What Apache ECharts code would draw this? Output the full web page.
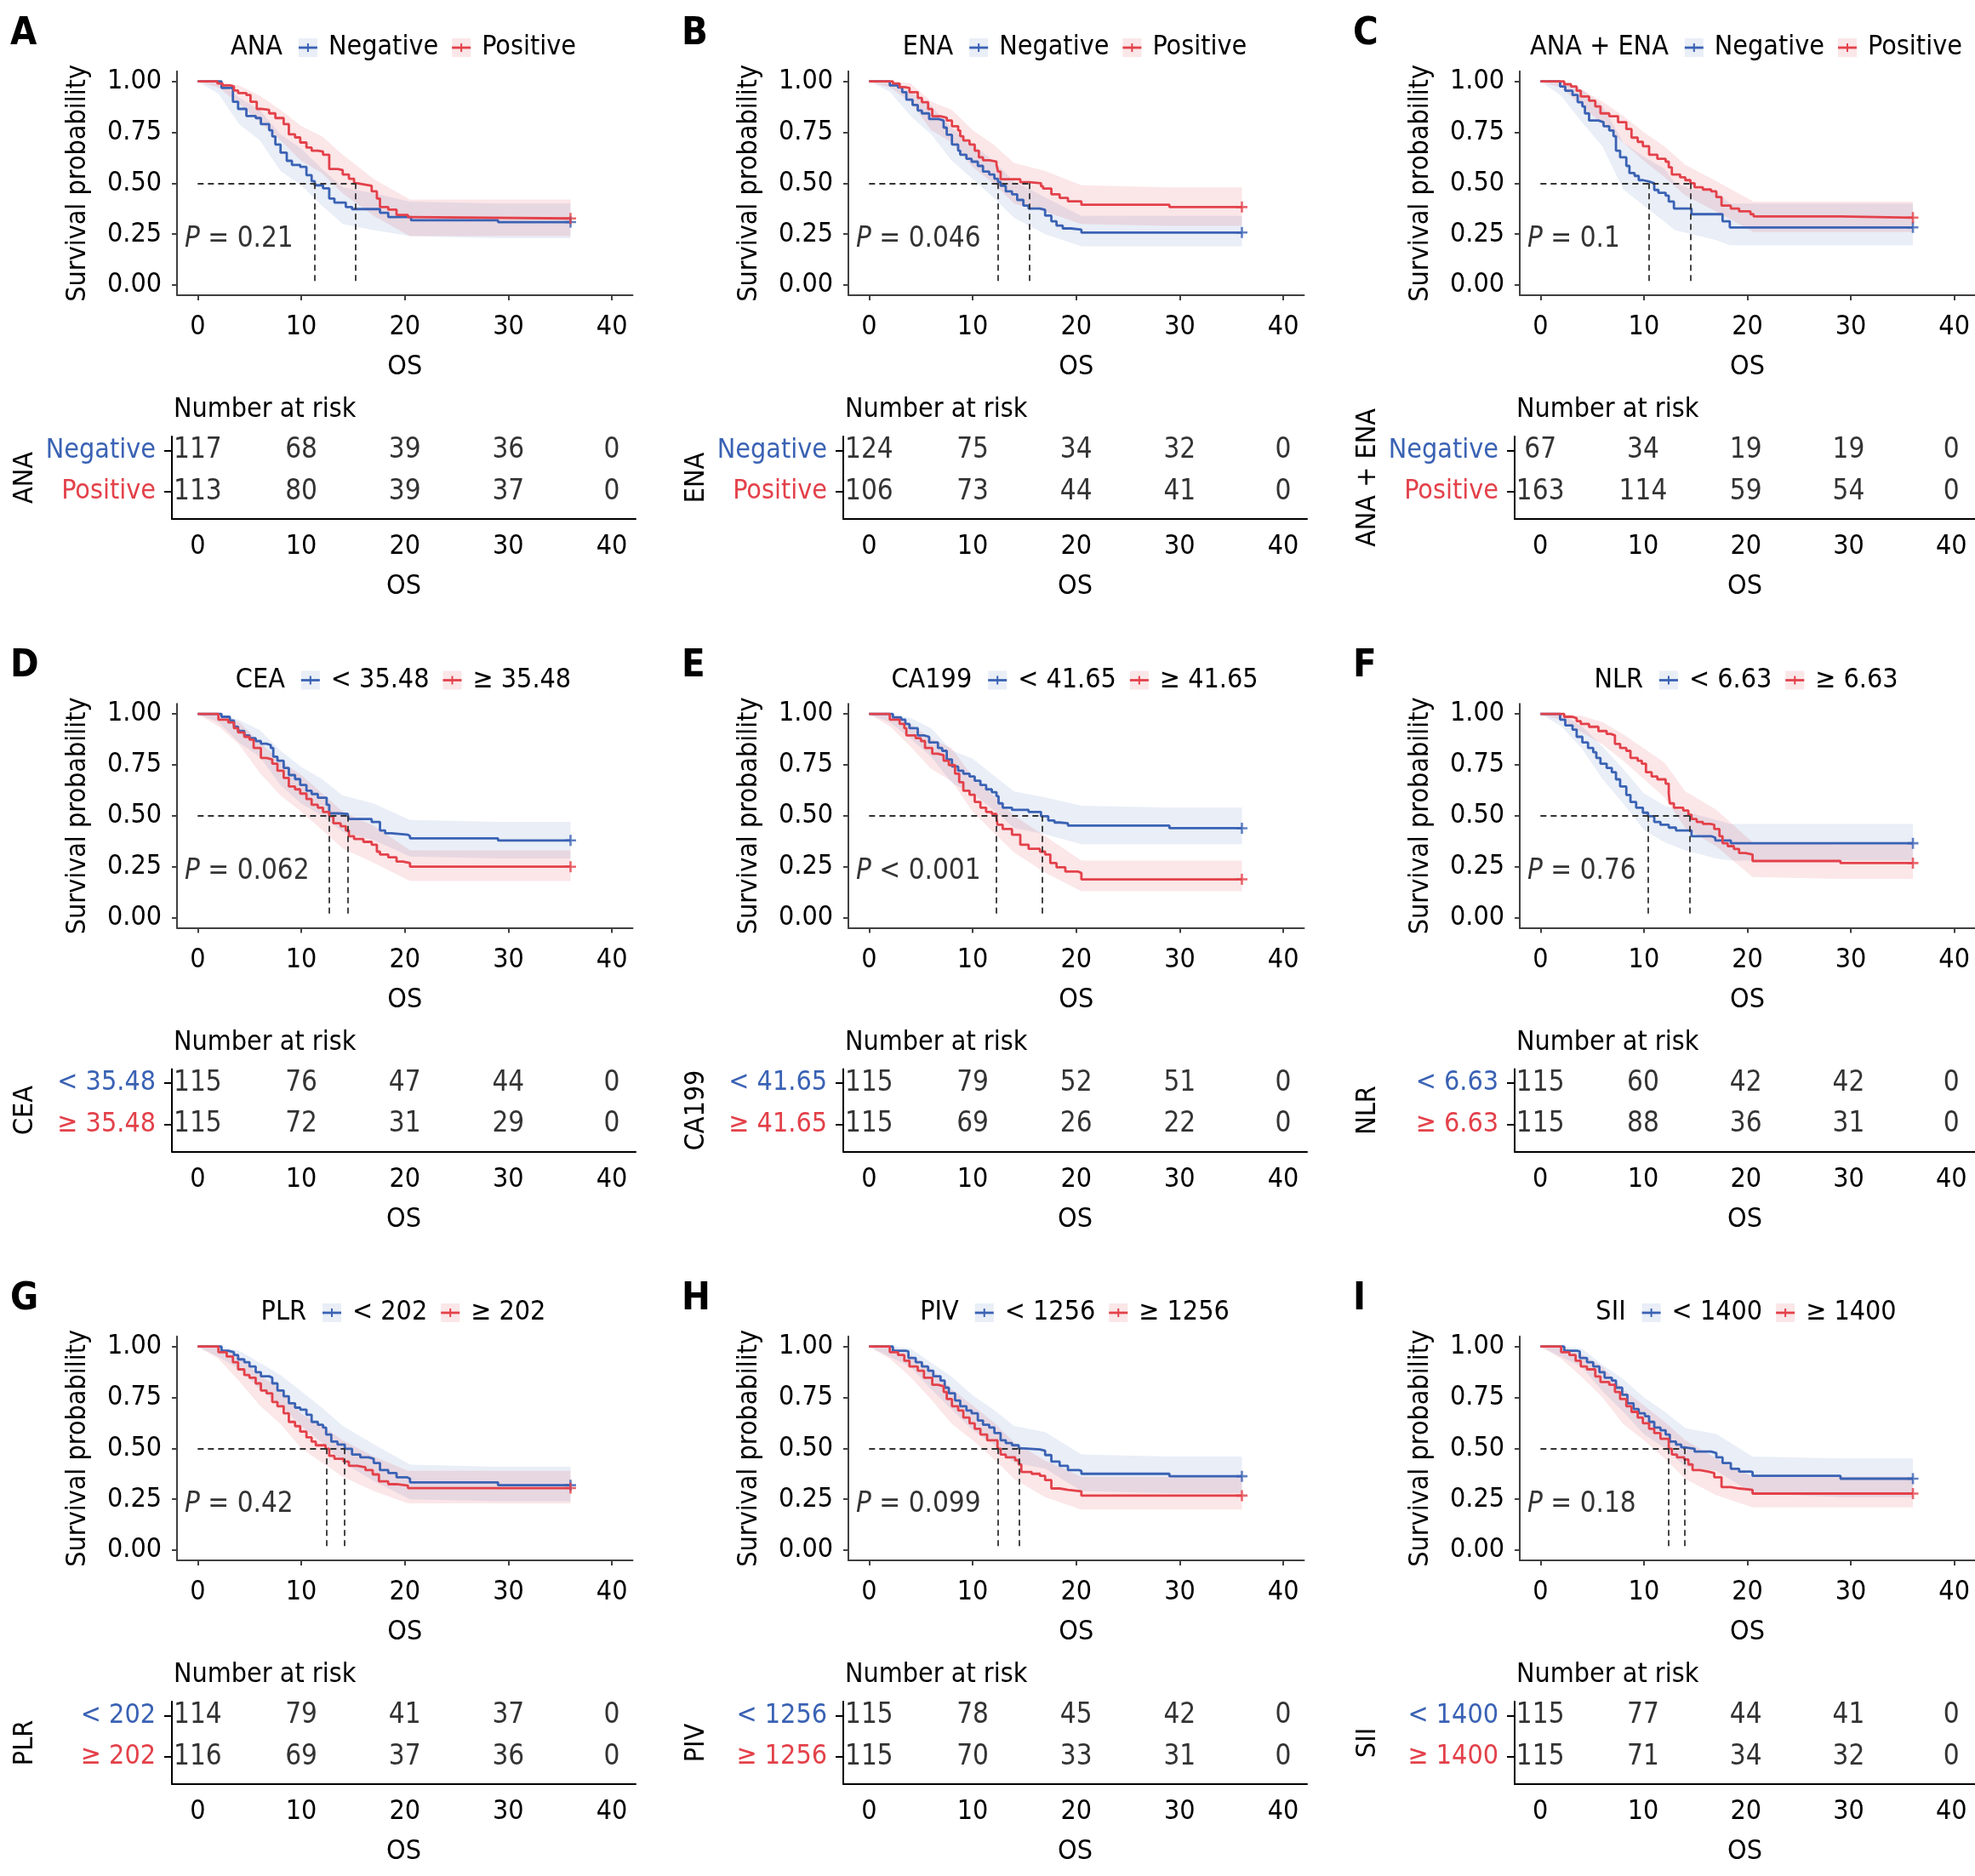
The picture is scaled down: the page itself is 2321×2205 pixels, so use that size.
<!DOCTYPE html>
<html><head><meta charset="utf-8">
<script src="https://cdn.jsdelivr.net/npm/echarts@6/dist/echarts.min.js"></script>
<style>html,body{margin:0;padding:0;background:#fff}#c{width:2321px;height:2205px}</style>
</head><body><div id="c"></div><script>
// ---------------- DATA ----------------
const titles = ['ANA','ENA','ANA + ENA','CEA','CA199','NLR','PLR','PIV','SII'];
const letters = ['A','B','C','D','E','F','G','H','I'];
const groupLabels = [
  ['Negative','Positive'],['Negative','Positive'],['Negative','Positive'],
  ['< 35.48','\u2265 35.48'],['< 41.65','\u2265 41.65'],['< 6.63','\u2265 6.63'],
  ['< 202','\u2265 202'],['< 1256','\u2265 1256'],['< 1400','\u2265 1400']];
const pTexts = ['= 0.21','= 0.046','= 0.1','= 0.062','< 0.001','= 0.76','= 0.42','= 0.099','= 0.18'];
const pPos = [-1.3, 0.225];
const xTicks = [0,10,20,30,40];
const yTicks = [0,0.25,0.5,0.75,1];
const riskTimes = [0,10,20,30,40];
const riskGroup1 = [[117,68,39,36,0],[124,75,34,32,0],[67,34,19,19,0],[115,76,47,44,0],[115,79,52,51,0],[115,60,42,42,0],[114,79,41,37,0],[115,78,45,42,0],[115,77,44,41,0]];
const riskGroup2 = [[113,80,39,37,0],[106,73,44,41,0],[163,114,59,54,0],[115,72,31,29,0],[115,69,26,22,0],[115,88,36,31,0],[116,69,37,36,0],[115,70,33,31,0],[115,71,34,32,0]];
// medians [group1, group2]
const medians = [[11.3,15.2],[12.45,15.5],[10.5,14.5],[14.5,12.7],[16.7,12.3],[10.4,14.45],[14.2,12.4],[14.5,12.4],[13.9,12.4]];

// Kaplan-Meier step curves [time, survival]
const kmA1 = [[0,1],[1.3,1],[2.3,.968],[3.4,.90],[3.9,.865],[4.7,.83],[5.6,.82],[6.1,.79],[6.9,.76],[7.2,.73],[7.5,.69],[8.0,.65],[8.6,.61],[9.1,.59],[9.9,.58],[10.5,.54],[11.0,.51],[11.3,.49],[12.1,.475],[12.7,.425],[13.2,.405],[14.3,.383],[14.9,.373],[17.6,.355],[18.4,.334],[20.6,.318],[29.0,.309],[36,.309]];
const kmA2 = [[0,1],[1.6,1],[1.9,.99],[2.4,.98],[3.2,.975],[3.5,.955],[3.9,.943],[4.7,.933],[5.1,.90],[5.7,.865],[6.1,.86],[6.9,.843],[7.5,.82],[8.3,.79],[8.8,.74],[9.4,.725],[9.9,.70],[10.5,.675],[11.0,.66],[11.6,.655],[12.1,.64],[12.7,.57],[13.5,.565],[14.0,.543],[14.6,.522],[15.1,.50],[15.4,.494],[16.1,.487],[16.8,.46],[17.3,.425],[17.6,.383],[18.4,.37],[19.2,.344],[20.3,.334],[20.5,.327],[36,.327]];
const kmB1 = [[0,1],[1.45,1],[2.0,.98],[2.8,.97],[3.2,.947],[3.6,.91],[4.2,.884],[4.7,.857],[5.1,.843],[5.8,.815],[6.7,.808],[7.2,.773],[7.5,.738],[8.0,.69],[8.6,.66],[8.8,.64],[9.4,.62],[9.9,.606],[10.5,.585],[11.0,.557],[11.6,.543],[12.1,.522],[12.45,.506],[12.7,.487],[13.2,.46],[13.8,.446],[14.3,.418],[14.9,.39],[15.4,.376],[16.5,.369],[17.0,.341],[17.6,.313],[18.1,.292],[18.7,.278],[19.5,.272],[20.5,.258],[36,.258]];
const kmB2 = [[0,1],[1.45,1],[2.3,.99],[2.95,.972],[3.4,.968],[3.9,.947],[4.7,.919],[5.1,.898],[5.7,.864],[6.1,.829],[6.9,.822],[7.5,.808],[8.0,.78],[8.6,.759],[8.8,.731],[9.1,.71],[9.7,.69],[10.2,.66],[10.6,.627],[11.0,.613],[11.6,.606],[12.3,.592],[12.45,.557],[12.7,.52],[14.6,.505],[15.5,.50],[16.6,.485],[16.8,.474],[17.6,.446],[18.4,.428],[19.2,.411],[20.5,.394],[29.0,.383],[36,.383]];
const kmC1 = [[0,1],[1.3,1],[1.9,.975],[2.4,.954],[3.1,.933],[3.6,.898],[4.05,.877],[4.3,.843],[4.7,.808],[5.6,.80],[6.1,.78],[6.65,.759],[7.06,.731],[7.3,.66],[7.7,.627],[8.3,.585],[8.6,.55],[9.1,.536],[9.5,.515],[9.9,.508],[10.5,.50],[11.0,.467],[11.4,.453],[12.1,.439],[12.4,.41],[12.9,.376],[14.6,.348],[17.6,.313],[18.3,.283],[36,.283]];
const kmC2 = [[0,1],[1.45,1],[2.3,.986],[2.95,.975],[3.5,.954],[3.9,.926],[4.7,.905],[5.3,.877],[5.8,.843],[6.65,.829],[7.5,.80],[8.3,.766],[8.8,.724],[9.4,.703],[9.9,.682],[10.5,.64],[11.3,.62],[12.1,.606],[12.4,.578],[12.7,.543],[13.5,.529],[14.0,.515],[14.5,.50],[14.9,.48],[15.7,.469],[16.5,.46],[17.0,.432],[17.5,.39],[18.4,.376],[19.2,.362],[20.3,.348],[20.6,.337],[29.0,.331],[36,.331]];
const kmD1 = [[0,1],[1.45,1],[2.3,.986],[3.1,.968],[3.5,.937],[3.9,.916],[4.5,.895],[5.0,.881],[5.6,.867],[6.1,.854],[6.65,.847],[7.06,.833],[7.3,.79],[7.7,.77],[8.3,.735],[8.8,.70],[9.4,.68],[9.9,.651],[10.5,.623],[11.0,.607],[11.6,.589],[12.45,.554],[12.7,.512],[13.5,.509],[14.5,.50],[14.6,.484],[16.8,.47],[17.6,.428],[18.1,.414],[18.7,.407],[20.3,.40],[20.5,.389],[29.0,.379],[36,.379]];
const kmD2 = [[0,1],[1.45,1],[2.0,.972],[2.95,.958],[3.5,.93],[3.9,.909],[4.5,.888],[5.0,.874],[5.4,.833],[6.1,.784],[6.65,.777],[7.2,.756],[7.7,.721],[8.3,.686],[8.8,.644],[9.4,.63],[9.9,.609],[10.5,.582],[11.0,.554],[11.6,.54],[12.1,.519],[12.7,.498],[13.1,.463],[13.8,.449],[14.3,.428],[14.6,.40],[15.1,.386],[16.0,.372],[16.8,.358],[17.3,.324],[17.6,.31],[18.4,.296],[19.2,.275],[19.8,.268],[20.5,.25],[36,.25]];
const kmE1 = [[0,1],[1.4,1],[2.3,.983],[3.1,.972],[3.5,.951],[3.9,.93],[4.7,.895],[5.3,.888],[5.8,.86],[6.65,.833],[7.06,.819],[7.5,.777],[8.0,.742],[8.6,.721],[9.1,.707],[9.7,.693],[10.2,.672],[10.75,.651],[11.3,.63],[11.85,.616],[12.3,.596],[12.5,.561],[12.9,.54],[13.8,.529],[15.4,.519],[16.6,.498],[17.3,.477],[17.9,.467],[18.4,.463],[19.2,.452],[29.0,.439],[36,.439]];
const kmE2 = [[0,1],[1.4,1],[2.0,.972],[2.95,.951],[3.4,.93],[3.6,.895],[4.5,.881],[5.0,.867],[5.4,.833],[6.1,.805],[6.65,.798],[7.2,.77],[7.7,.749],[8.3,.707],[8.7,.665],[9.1,.623],[9.7,.603],[10.2,.568],[10.75,.54],[11.3,.519],[11.85,.509],[12.3,.491],[12.4,.456],[12.9,.435],[13.8,.407],[14.6,.358],[15.4,.338],[16.5,.324],[17.0,.31],[17.5,.268],[18.1,.247],[18.95,.226],[20.2,.219],[20.5,.188],[36,.188]];
const kmF1 = [[0,1],[1.3,1],[1.9,.972],[2.4,.944],[3.1,.923],[3.5,.888],[4.05,.86],[4.6,.833],[5.1,.812],[5.4,.784],[5.8,.756],[6.4,.735],[6.9,.714],[7.3,.679],[7.7,.644],[8.3,.602],[8.7,.568],[9.25,.54],[9.9,.515],[10.4,.498],[11.0,.47],[11.6,.456],[12.4,.442],[13.1,.428],[14.6,.40],[16.5,.393],[16.9,.379],[18.4,.365],[36,.365]];
const kmF2 = [[0,1],[1.6,1],[2.3,.986],[3.1,.979],[3.5,.965],[3.9,.951],[4.7,.937],[5.6,.916],[6.4,.902],[6.8,.895],[7.2,.853],[7.7,.833],[8.3,.819],[8.7,.784],[9.4,.77],[9.8,.756],[10.2,.714],[10.75,.693],[11.3,.679],[12.1,.658],[12.4,.61],[12.5,.561],[12.9,.54],[13.8,.526],[14.3,.505],[14.6,.484],[15.1,.47],[15.7,.46],[16.4,.456],[16.8,.435],[17.3,.40],[17.6,.365],[18.1,.351],[18.7,.337],[19.2,.317],[19.8,.31],[20.5,.278],[29.0,.268],[36,.268]];
const kmG1 = [[0,1],[1.45,1],[2.3,.979],[2.95,.972],[3.5,.958],[3.9,.937],[4.5,.923],[5.0,.902],[5.6,.874],[6.1,.854],[6.9,.847],[7.2,.819],[7.7,.784],[8.3,.756],[8.8,.721],[9.4,.70],[9.9,.69],[10.5,.665],[11.0,.63],[11.6,.616],[12.1,.602],[12.4,.568],[12.9,.533],[13.5,.519],[14.2,.498],[14.9,.47],[15.7,.456],[16.5,.449],[17.0,.428],[17.6,.393],[18.4,.379],[19.2,.358],[20.2,.351],[20.5,.333],[29.0,.319],[36,.319]];
const kmG2 = [[0,1],[1.45,1],[2.0,.972],[2.8,.951],[3.4,.923],[3.9,.888],[4.5,.86],[5.0,.847],[5.6,.819],[6.1,.784],[6.65,.77],[7.2,.728],[7.7,.707],[8.3,.672],[8.8,.63],[9.4,.609],[9.9,.582],[10.5,.554],[11.0,.533],[11.4,.515],[12.35,.498],[12.7,.463],[13.2,.449],[14.1,.435],[14.6,.414],[15.4,.407],[16.2,.393],[16.9,.372],[17.5,.338],[18.4,.324],[19.2,.317],[20.3,.305],[36,.305]];
const kmH1 = [[0,1],[1.45,1],[2.3,.979],[3.5,.976],[3.8,.944],[4.5,.923],[5.1,.902],[5.7,.881],[6.2,.854],[6.9,.833],[7.3,.798],[7.7,.77],[8.3,.735],[8.8,.707],[9.4,.686],[9.9,.672],[10.5,.637],[11.0,.616],[11.6,.602],[12.1,.575],[12.7,.54],[13.2,.526],[13.8,.515],[14.45,.50],[14.9,.495],[16.5,.488],[17.0,.467],[17.6,.435],[18.4,.414],[19.2,.393],[20.3,.389],[20.5,.375],[29.0,.363],[36,.363]];
const kmH2 = [[0,1],[1.45,1],[2.0,.972],[2.8,.958],[3.4,.93],[3.9,.902],[4.7,.881],[5.3,.847],[6.1,.812],[6.65,.805],[7.2,.777],[7.5,.742],[8.0,.707],[8.6,.686],[9.1,.651],[9.7,.623],[10.2,.596],[10.75,.568],[11.4,.54],[12.4,.498],[12.7,.47],[13.2,.456],[14.1,.442],[14.45,.421],[14.7,.384],[15.7,.375],[16.5,.365],[17.0,.344],[17.6,.303],[18.4,.296],[19.2,.289],[20.5,.268],[36,.268]];
const kmI1 = [[0,1],[1.45,1],[2.3,.979],[3.5,.976],[3.8,.944],[4.5,.923],[5.1,.902],[5.7,.874],[6.2,.847],[6.9,.833],[7.3,.798],[7.9,.763],[8.4,.721],[9.0,.693],[9.5,.672],[10.1,.658],[10.5,.63],[11.0,.602],[11.6,.589],[12.1,.568],[12.5,.533],[13.1,.519],[13.6,.505],[13.9,.498],[14.9,.484],[16.5,.477],[17.0,.456],[17.6,.428],[18.4,.40],[19.2,.386],[20.3,.384],[20.5,.365],[29.0,.351],[36,.351]];
const kmI2 = [[0,1],[1.45,1],[2.0,.972],[2.8,.958],[3.4,.93],[3.9,.902],[4.5,.888],[5.3,.853],[5.8,.826],[6.65,.812],[7.2,.777],[7.7,.742],[8.3,.707],[8.8,.679],[9.4,.651],[9.9,.623],[10.5,.596],[11.0,.575],[11.6,.547],[12.4,.498],[12.7,.47],[13.2,.456],[13.9,.445],[14.3,.421],[14.7,.393],[15.4,.386],[16.2,.379],[16.8,.358],[17.5,.31],[18.4,.303],[19.2,.296],[20.5,.278],[36,.278]];

// confidence bands [time, lower, upper]
const ciA1 = [[0,1,1],[2,.94,1],[4,.79,.92],[6,.71,.86],[8,.56,.74],[10,.49,.67],[12,.39,.57],[14,.30,.48],[17,.27,.45],[20.5,.24,.41],[29,.23,.40],[36,.23,.40]];
const ciA2 = [[0,1,1],[2,.97,1],[4,.89,.98],[6,.80,.93],[8,.71,.86],[10,.61,.78],[12,.55,.73],[14,.45,.64],[17,.34,.52],[20.5,.24,.42],[36,.24,.42]];
const ciB1 = [[0,1,1],[2,.95,1],[4,.83,.95],[6,.74,.88],[8,.61,.77],[10,.52,.69],[12,.43,.61],[14,.33,.51],[17,.25,.43],[20.5,.19,.34],[36,.19,.34]];
const ciB2 = [[0,1,1],[2,.97,1],[4,.90,.99],[6,.76,.90],[8,.70,.86],[10,.58,.76],[12,.50,.69],[14,.40,.60],[17,.36,.56],[20.5,.30,.49],[29,.29,.48],[36,.29,.48]];
const ciC1 = [[0,1,1],[2,.93,1],[4,.80,.96],[6,.68,.88],[8,.47,.70],[10,.39,.63],[12,.31,.57],[13,.27,.50],[14.6,.25,.47],[17,.22,.46],[18.3,.195,.40],[36,.195,.40]];
const ciC2 = [[0,1,1],[2,.97,1],[4,.88,.96],[6,.79,.90],[8,.70,.83],[10,.61,.75],[12,.53,.68],[14,.44,.59],[17,.36,.51],[20.6,.26,.41],[36,.26,.41]];
const ciD1 = [[0,1,1],[2,.96,1],[4,.86,.97],[6,.79,.92],[8,.65,.82],[10,.56,.74],[12,.50,.68],[14,.42,.60],[17,.38,.56],[20.5,.30,.48],[29,.29,.47],[36,.29,.47]];
const ciD2 = [[0,1,1],[2,.94,1],[4,.85,.96],[6,.71,.86],[8,.60,.77],[10,.52,.70],[12,.43,.61],[14,.34,.52],[17,.27,.45],[20.5,.18,.33],[36,.18,.33]];
const ciE1 = [[0,1,1],[2,.96,1],[4,.88,.98],[6,.79,.93],[8,.66,.82],[10,.61,.78],[12,.53,.70],[14,.44,.62],[17,.41,.59],[20.5,.36,.55],[29,.36,.54],[36,.36,.54]];
const ciE2 = [[0,1,1],[2,.94,1],[4,.84,.95],[6,.73,.88],[8,.67,.83],[10,.52,.69],[12,.42,.60],[14,.32,.50],[17,.22,.40],[20.5,.13,.28],[36,.13,.28]];
const ciF1 = [[0,1,1],[2,.94,1],[4,.83,.94],[6,.68,.84],[8,.56,.73],[10,.43,.61],[12,.37,.55],[14,.33,.52],[17,.29,.48],[18.4,.28,.46],[36,.28,.46]];
const ciF2 = [[0,1,1],[2,.97,1],[4,.91,.99],[6,.85,.96],[8,.77,.90],[10,.68,.83],[12,.59,.76],[14,.44,.62],[17,.35,.53],[20.5,.20,.37],[29,.19,.36],[36,.19,.36]];
const ciG1 = [[0,1,1],[2,.95,1],[4,.89,.98],[6,.79,.92],[8,.71,.86],[10,.61,.78],[12,.53,.70],[14,.43,.61],[17,.34,.52],[20.5,.25,.42],[29,.24,.41],[36,.24,.41]];
const ciG2 = [[0,1,1],[2,.94,1],[4,.83,.95],[6,.71,.86],[8,.62,.79],[10,.50,.67],[12,.43,.61],[14,.36,.54],[17,.29,.46],[20.3,.23,.39],[36,.23,.39]];
const ciH1 = [[0,1,1],[2,.95,1],[4,.90,.99],[6,.79,.92],[8,.69,.85],[10,.59,.76],[12,.52,.69],[14,.43,.61],[17,.40,.58],[20.5,.29,.47],[29,.28,.46],[36,.28,.46]];
const ciH2 = [[0,1,1],[2,.94,1],[4,.85,.96],[6,.74,.89],[8,.62,.79],[10,.54,.71],[12,.45,.63],[14,.35,.53],[17,.26,.44],[20.5,.20,.36],[36,.20,.36]];
const ciI1 = [[0,1,1],[2,.95,1],[4,.90,.99],[6,.78,.91],[8,.68,.84],[10,.57,.75],[12,.50,.68],[14,.41,.60],[17,.39,.57],[20.5,.28,.46],[29,.26,.45],[36,.26,.45]];
const ciI2 = [[0,1,1],[2,.94,1],[4,.85,.96],[6,.75,.90],[8,.62,.79],[10,.54,.71],[12,.45,.63],[14,.35,.54],[17,.27,.45],[20.5,.21,.36],[36,.21,.36]];

const km1 = [kmA1,kmB1,kmC1,kmD1,kmE1,kmF1,kmG1,kmH1,kmI1];
const km2 = [kmA2,kmB2,kmC2,kmD2,kmE2,kmF2,kmG2,kmH2,kmI2];
const ci1 = [ciA1,ciB1,ciC1,ciD1,ciE1,ciF1,ciG1,ciH1,ciI1];
const ci2 = [ciA2,ciB2,ciC2,ciD2,ciE2,ciF2,ciG2,ciH2,ciI2];

// ---------------- STYLE / LAYOUT ----------------
const BLUE = '#3A62B4', RED = '#E3414A';
const BLUE_BAND = 'rgba(58,98,180,0.11)', RED_BAND = 'rgba(227,65,74,0.13)';
const FONT = "'DejaVu Sans Condensed','DejaVu Sans',sans-serif";
const FS = 32;
const colX = [0, 789, 1578], rowY = [0, 743.5, 1487];
const AX = '#404040';
const PLUS = 'path://M0,4H10V6H0ZM4,0H6V10H4Z';

const mctx = document.createElement('canvas').getContext('2d');
function tw(s, size, weight){ mctx.font = (weight||'normal')+' '+size+'px '+FONT; return mctx.measureText(s).width; }

const grids=[], xAxes=[], yAxes=[], series=[], graphics=[];

function bandSeries(band, fill, idx){
  return {type:'custom', xAxisIndex:idx, yAxisIndex:idx, silent:true, z:1, data:band,
    encode:{x:0, y:[1,2]}, clip:true,
    renderItem:(params, api)=>{
      if (params.dataIndex !== 0) return null;
      const up=[], lo=[];
      for (const b of band){ up.push(api.coord([b[0], b[2]])); lo.push(api.coord([b[0], b[1]])); }
      return {type:'polygon', shape:{points: up.concat(lo.reverse())}, style:{fill: fill}};
    }};
}

for (let p=0; p<9; p++){
  const c = p%3, r = Math.floor(p/3), ox = colX[c], oy = rowY[r];
  const gi = 2*p, gr = 2*p+1;
  grids.push({left: ox+208, top: oy+83.7, width: 535.5, height: 263.3});
  grids.push({left: ox+202, top: oy+513, width: 545, height: 97});
  const lbl = {fontSize:FS, color:'#000', fontFamily:FONT};
  xAxes.push({gridIndex:gi, type:'value', min:-2, max:42,
    axisLine:{onZero:false, lineStyle:{color:AX, width:2}}, axisTick:{show:true, length:6, customValues:xTicks, lineStyle:{color:AX, width:2}},
    axisLabel:Object.assign({customValues:xTicks, margin:22}, lbl), splitLine:{show:false},
    name:'OS', nameLocation:'middle', nameGap:69, nameTextStyle:lbl});
  yAxes.push({gridIndex:gi, type:'value', min:-0.05, max:1.05,
    axisLine:{show:true, onZero:false, lineStyle:{color:AX, width:2}}, axisTick:{show:true, length:6, customValues:yTicks, lineStyle:{color:AX, width:2}},
    axisLabel:Object.assign({customValues:yTicks, margin:18, formatter:v=>v.toFixed(2)}, lbl), splitLine:{show:false},
    name:'Survival probability', nameLocation:'middle', nameGap:100, nameRotate:90, nameTextStyle:lbl});
  xAxes.push({gridIndex:gr, type:'value', min:-2.5, max:42.3,
    axisLine:{onZero:false, lineStyle:{color:'#000', width:2}}, axisTick:{show:false},
    axisLabel:Object.assign({customValues:xTicks, margin:17}, lbl), splitLine:{show:false},
    name:'OS', nameLocation:'middle', nameGap:64, nameTextStyle:lbl});
  const g = groupLabels[p];
  yAxes.push({gridIndex:gr, type:'value', inverse:true, min:0.66, max:2.66,
    axisLine:{show:true, onZero:false, lineStyle:{color:'#000', width:2}}, axisTick:{show:true, length:9, customValues:[1,2], lineStyle:{color:'#000', width:2}},
    axisLabel:{customValues:[1,2], margin:19, formatter:v=> v===1 ? '{b|'+g[0]+'}' : '{r|'+g[1]+'}',
      rich:{b:{color:BLUE, fontSize:FS, fontFamily:FONT}, r:{color:RED, fontSize:FS, fontFamily:FONT}}},
    splitLine:{show:false},
    name:titles[p], nameLocation:'middle', nameGap:156, nameRotate:90, nameTextStyle:lbl});

  // bands
  series.push(bandSeries(ci1[p], BLUE_BAND, gi));
  series.push(bandSeries(ci2[p], RED_BAND, gi));
  // curves
  const m = medians[p], mx = Math.max(m[0], m[1]);
  series.push({type:'line', name:g[0], xAxisIndex:gi, yAxisIndex:gi, data:km1[p], step:'end', symbol:'none', silent:true, z:3,
    lineStyle:{color:BLUE, width:2.8}, itemStyle:{color:BLUE},
    markLine:{silent:true, symbol:['none','none'], label:{show:false}, animation:false,
      lineStyle:{type:[7,5], color:'#333', width:1.8},
      data:[[{coord:[0,0.5]},{coord:[mx,0.5]}],[{coord:[m[0],0.5]},{coord:[m[0],0]}],[{coord:[m[1],0.5]},{coord:[m[1],0]}]]}});
  series.push({type:'line', name:g[1], xAxisIndex:gi, yAxisIndex:gi, data:km2[p], step:'end', symbol:'none', silent:true, z:3,
    lineStyle:{color:RED, width:2.8}, itemStyle:{color:RED}});
  // censor marks at end
  series.push({type:'scatter', xAxisIndex:gi, yAxisIndex:gi, data:[km1[p][km1[p].length-1]], symbol:PLUS, symbolSize:13, itemStyle:{color:BLUE}, z:4, silent:true});
  series.push({type:'scatter', xAxisIndex:gi, yAxisIndex:gi, data:[km2[p][km2[p].length-1]], symbol:PLUS, symbolSize:13, itemStyle:{color:RED}, z:4, silent:true});
  // p value
  series.push({type:'scatter', xAxisIndex:gi, yAxisIndex:gi, data:[pPos], symbolSize:1, itemStyle:{color:'rgba(0,0,0,0)'}, silent:true,
    label:{show:true, position:'right', distance:0, formatter:'{i|P} '+pTexts[p], fontSize:33, color:'#000', fontFamily:FONT,
      rich:{i:{fontStyle:'italic', fontSize:33, color:'#000', fontFamily:FONT}}}});
  // risk table numbers
  [riskGroup1[p], riskGroup2[p]].forEach((arr, k)=>{
    series.push({type:'scatter', xAxisIndex:gr, yAxisIndex:gr, silent:true, symbolSize:1, itemStyle:{color:'rgba(0,0,0,0)'},
      data: riskTimes.map((t,i)=>[t, k+1, arr[i]]),
      label:{show:true, position:'inside', formatter:pp=>String(pp.value[2]), fontSize:33, color:'#000', fontFamily:FONT}});
  });

  // panel letter
  graphics.push({type:'text', x:ox+12, y:oy+40, style:{text:letters[p], fontSize:45, fontWeight:'bold', fontFamily:FONT, fill:'#000', align:'left', verticalAlign:'middle'}});
  // Number at risk
  graphics.push({type:'text', x:ox+204, y:oy+482, style:{text:'Number at risk', fontSize:FS, fontFamily:FONT, fill:'#000', align:'left', verticalAlign:'middle'}});
  // legend
  const wT = tw(titles[p], FS), w1 = tw(g[0], FS), w2 = tw(g[1], FS);
  const KEY = 22, G1 = 19, G2 = 13, G3 = 16;
  const total = wT + G1 + KEY + G2 + w1 + G3 + KEY + G2 + w2;
  let x = ox + 474 - total/2; const y = oy + 56;
  graphics.push({type:'text', x:x, y:y, style:{text:titles[p], fontSize:FS, fontFamily:FONT, fill:'#000', align:'left', verticalAlign:'middle'}});
  x += wT + G1;
  const keys = [[BLUE, BLUE_BAND, g[0], w1],[RED, RED_BAND, g[1], w2]];
  keys.forEach((kk, i)=>{
    graphics.push({type:'rect', shape:{x:x, y:y-11, width:KEY, height:22}, style:{fill:kk[1]}});
    graphics.push({type:'line', shape:{x1:x, y1:y, x2:x+KEY, y2:y}, style:{stroke:kk[0], lineWidth:2.8}});
    graphics.push({type:'line', shape:{x1:x+KEY/2, y1:y-5, x2:x+KEY/2, y2:y+5}, style:{stroke:kk[0], lineWidth:2}});
    x += KEY + G2;
    graphics.push({type:'text', x:x, y:y, style:{text:kk[2], fontSize:FS, fontFamily:FONT, fill:'#000', align:'left', verticalAlign:'middle'}});
    x += kk[3] + G3;
  });
}

const chart = echarts.init(document.getElementById('c'), null, {renderer:'canvas', width:2321, height:2205});
chart.setOption({
  backgroundColor:'#fff', animation:false,
  textStyle:{fontFamily:FONT},
  grid:grids, xAxis:xAxes, yAxis:yAxes, series:series, graphic:graphics
});
</script></body></html>
